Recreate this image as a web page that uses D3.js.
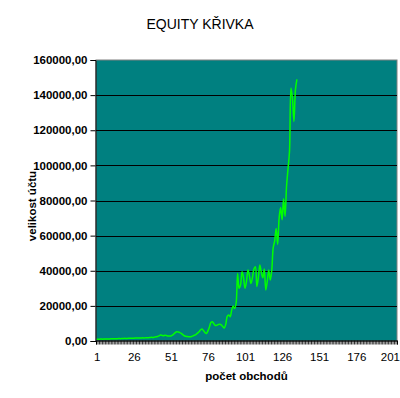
<!DOCTYPE html>
<html>
<head>
<meta charset="utf-8">
<script src="https://cdn.jsdelivr.net/npm/d3@7"></script>
<style>
  html, body { margin: 0; padding: 0; background: #ffffff; }
  svg { display: block; font-family: "Liberation Sans", Arial, sans-serif; }
</style>
</head>
<body>
<svg id="chart" width="400" height="398"></svg>
<script>
// ---- data ----
const titleText = "EQUITY KŘIVKA";
const xTitle = "počet obchodů";
const yTitle = "velikost účtu";
const categoryCount = 203;
const categories = d3.range(1, categoryCount + 1);
const xTickLabels = [1, 26, 51, 76, 101, 126, 151, 176, 201];
const yTickValues = [0, 20000, 40000, 60000, 80000, 100000, 120000, 140000, 160000];
const equity = [
  1000, 1000, 1050, 1100, 1050, 1100, 1150, 1200, 1150, 1200,
  1250, 1300, 1250, 1300, 1350, 1400, 1350, 1400, 1450, 1500,
  1450, 1500, 1550, 1600, 1550, 1600, 1650, 1700, 1650, 1700,
  1750, 1800, 1750, 1800, 1850, 1900, 2000, 2100, 2000, 2200,
  2400, 2600, 2900, 3400, 3200, 3000, 3300, 3100, 2900, 2800,
  2900, 3300, 4000, 4800, 5300, 5100, 4800, 4300, 3600, 3000,
  2700, 2500, 2400, 2400, 2600, 2900, 3300, 3800, 4500, 5300,
  6300, 6800, 5900, 4800, 4300, 5800, 8000, 10500, 11000, 9800,
  8800, 9000, 9400, 9600, 9200, 8200, 7400, 9500, 14000, 14800,
  13800, 17500, 20000, 18500, 21500, 38500, 30000, 32000, 39500, 36000,
  30000, 34000, 40400, 37000, 32800, 36000, 41000, 42300, 31000, 36000,
  43300, 39000, 36000, 41000, 29000, 34000, 40400, 34700, 40000, 53000,
  57000, 64000, 55000, 70000, 76000, 69000, 81000, 71000, 88000, 98000,
  108000, 144000, 138000, 125000, 143000, 149000
];

// ---- layout ----
const plot = { left: 96, right: 397, top: 60, bottom: 341 };
const svg = d3.select("#chart");

const x = d3.scaleLinear()
  .domain([0.5, categoryCount + 0.5])
  .range([plot.left, plot.right]);
const y = d3.scaleLinear()
  .domain([0, 160000])
  .range([plot.bottom, plot.top]);

const locale = d3.formatLocale({ decimal: ",", thousands: "", grouping: [3], currency: ["", ""] });
const fmt = locale.format(".2f");

// plot background
svg.append("rect")
  .attr("x", plot.left).attr("y", plot.top)
  .attr("width", plot.right - plot.left).attr("height", plot.bottom - plot.top)
  .attr("fill", "#008080")
  .attr("stroke", "#808080").attr("stroke-width", 1);

// gridlines
svg.append("g")
  .selectAll("line")
  .data(yTickValues.filter(v => v > 0 && v < 160000))
  .join("line")
  .attr("x1", plot.left).attr("x2", plot.right)
  .attr("y1", d => Math.round(y(d)) + 0.5).attr("y2", d => Math.round(y(d)) + 0.5)
  .attr("stroke", "#000").attr("stroke-width", 1);

// y axis
const yAxis = svg.append("g")
  .attr("transform", `translate(${plot.left - 0.5},0)`)
  .call(d3.axisLeft(y).tickValues(yTickValues).tickFormat(fmt).tickSize(5).tickPadding(3));
yAxis.select(".domain").attr("stroke", "#000");
yAxis.selectAll(".tick line").attr("stroke", "#000");
yAxis.selectAll("text")
  .attr("font-family", "'Liberation Sans', Arial, sans-serif")
  .attr("font-size", "11.5px").attr("font-weight", "bold").attr("fill", "#000");

// x axis tick marks (between categories)
const xTickMarks = svg.append("g")
  .attr("transform", `translate(0,${plot.bottom - 0.5})`)
  .call(d3.axisBottom(x).tickValues(d3.range(0.5, categoryCount + 1, 1)).tickSize(4).tickFormat(""));
xTickMarks.select(".domain").attr("stroke", "#000");
xTickMarks.selectAll(".tick line").attr("stroke", "#000").attr("stroke-width", 0.8);

// x axis labels
const xLabels = svg.append("g")
  .attr("transform", `translate(0,${plot.bottom})`)
  .call(d3.axisBottom(x).tickValues(xTickLabels).tickSize(0).tickPadding(12));
xLabels.select(".domain").remove();
xLabels.selectAll("text")
  .attr("font-family", "'Liberation Sans', Arial, sans-serif")
  .attr("font-size", "11.5px").attr("fill", "#000");
// keep the last label inside the window (it touches the right edge)
xLabels.selectAll(".tick")
  .filter(d => d === xTickLabels[xTickLabels.length - 1])
  .select("text")
  .attr("text-anchor", "end")
  .attr("x", 399.5 - x(xTickLabels[xTickLabels.length - 1]));

// line
const line = d3.line()
  .x((d, i) => x(categories[i]))
  .y(d => y(d))
  .curve(d3.curveCatmullRom.alpha(0.5));
svg.append("path")
  .datum(equity)
  .attr("d", line)
  .attr("fill", "none")
  .attr("stroke", "#00ff00")
  .attr("stroke-width", 1.5);

// titles
svg.append("text")
  .attr("x", 200).attr("y", 28.5)
  .attr("text-anchor", "middle")
  .attr("font-size", "14px")
  .attr("fill", "#000")
  .text(titleText);

svg.append("text")
  .attr("x", (plot.left + plot.right) / 2).attr("y", 380)
  .attr("text-anchor", "middle")
  .attr("font-size", "11.5px").attr("font-weight", "bold")
  .attr("fill", "#000")
  .text(xTitle);

svg.append("text")
  .attr("transform", `translate(36,206) rotate(-90)`)
  .attr("text-anchor", "middle")
  .attr("font-size", "11.5px").attr("font-weight", "bold")
  .attr("fill", "#000")
  .text(yTitle);
</script>
</body>
</html>
